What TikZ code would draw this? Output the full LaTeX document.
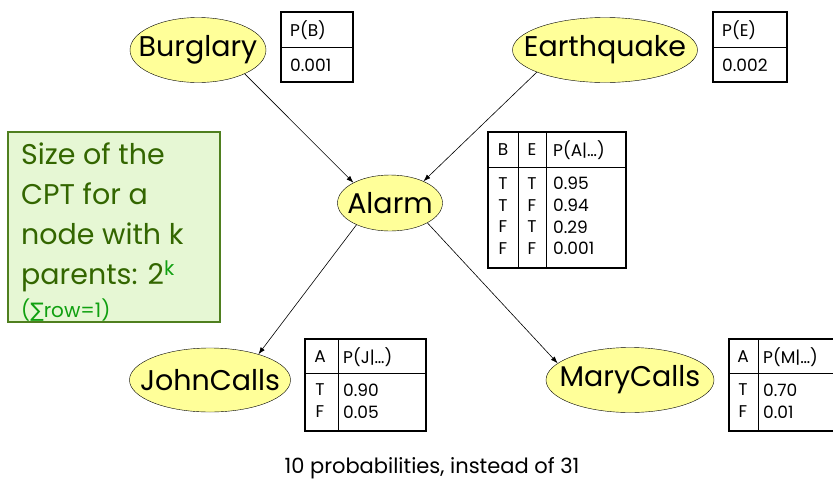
\documentclass[tikz,border=0pt]{standalone}
\usepackage{fontspec}
\setmainfont{Poppins}
\newfontfamily\symfont{DejaVu Sans}
\usetikzlibrary{shapes.geometric,arrows.meta}

\definecolor{nodeyellow}{HTML}{FFFF99}
\definecolor{notefill}{HTML}{E6F7D4}
\definecolor{noteframe}{HTML}{4F7F1F}
\definecolor{notetext}{HTML}{336600}
\definecolor{notelight}{HTML}{10A010}

\tikzset{
  var/.style={ellipse, draw, fill=nodeyellow, inner sep=0pt},
  varname/.style={font=\fontsize{28.5}{32}\selectfont},
  cpt/.style={line width=1.6pt},
  rule/.style={line width=0.8pt},
  cell/.style={inner sep=0pt, font=\fontsize{17}{19}\selectfont},
  link/.style={-{Latex[length=7pt,width=5pt]}, line width=0.6pt},
}

\begin{document}
\begin{tikzpicture}[x=1pt, y=-1pt]
    \useasboundingbox (0,0) rectangle (833,483);
    \clip (0,0) rectangle (833,483);

    % Network nodes
    \node[var, minimum width=136, minimum height=65, label={[varname]center:Burglary}] (burglary) at (198,50) {};
    \node[var, minimum width=185, minimum height=65, label={[varname]center:Earthquake}] (quake) at (605,50) {};
    \node[var, minimum width=105, minimum height=56, label={[varname]center:Alarm}] (alarm) at (390,203) {};
    \node[var, minimum width=161, minimum height=64, label={[varname]center:JohnCalls}] (john) at (210,380) {};
    \node[var, minimum width=168, minimum height=65, label={[varname]center:MaryCalls}] (mary) at (630,380) {};

    % Arcs
    \draw[link] (burglary.-27) -- (alarm.151);
    \draw[link] (quake.-162) -- (alarm.33);
    \draw[link] (alarm.213) -- (john.28);
    \draw[link] (alarm.-28) -- (mary.167);

    % P(B)
    \draw[cpt] (281,12) rectangle (353,82);
    \draw[rule] (281,47) -- (353,47);
    \node[cell, anchor=west] (pbhead) at (290,30) {P(B)};
    \node[cell, anchor=west] (pbval) at (290,65) {0.001};

    % P(E)
    \draw[cpt] (713,12) rectangle (787,82);
    \draw[rule] (713,47) -- (787,47);
    \node[cell, anchor=west] (pehead) at (722,30) {P(E)};
    \node[cell, anchor=west] (peval) at (722,65) {0.002};

    % P(A|B,E)
    \draw[cpt] (488,132) rectangle (626,268);
    \draw[rule] (488,167) -- (626,167) (518,132) -- (518,268) (546,132) -- (546,268);
    \node[cell] (pab) at (503,150) {B};
    \node[cell] (pae) at (532,150) {E};
    \node[cell, anchor=west] (pahead) at (553,150) {P(A|\ldots)};
    \foreach \b/\e/\p [count=\i] in {T/T/0.95, T/F/0.94, F/T/0.29, F/F/0.001} {
        \node[cell] (pab\i) at (503,161.7+21.7*\i) {\b};
        \node[cell] (pae\i) at (532,161.7+21.7*\i) {\e};
        \node[cell, anchor=west] (paval\i) at (553,161.7+21.7*\i) {\p};
    }

    % P(J|A)
    \draw[cpt] (305,339) rectangle (426,431);
    \draw[rule] (305,373) -- (426,373) (338,339) -- (338,431);
    \node[cell] (pja) at (320,357) {A};
    \node[cell, anchor=west] (pjhead) at (343,357) {P(J|\ldots)};
    \node[cell] (pja1) at (320,390) {T};
    \node[cell, anchor=west] (pjval1) at (343,390) {0.90};
    \node[cell] (pja2) at (320,412) {F};
    \node[cell, anchor=west] (pjval2) at (343,412) {0.05};

    % P(M|A)
    \draw[cpt] (729,339) rectangle (850,431);
    \draw[rule] (729,373) -- (850,373) (758,339) -- (758,431);
    \node[cell] (pma) at (743,357) {A};
    \node[cell, anchor=west] (pmhead) at (763,357) {P(M|\ldots)};
    \node[cell] (pma1) at (743,390) {T};
    \node[cell, anchor=west] (pmval1) at (763,390) {0.70};
    \node[cell] (pma2) at (743,412) {F};
    \node[cell, anchor=west] (pmval2) at (763,412) {0.01};

    % Side note
    \draw[fill=notefill, draw=noteframe, line width=1.5pt] (8,132) rectangle (220,322);
    \node[anchor=north west, inner sep=0pt, align=left, text=notetext,
          font=\fontsize{28.5}{40}\selectfont] (note) at (21,143) {
        Size of the\\
        CPT for a\\
        node with k\\
        parents: 2\textsuperscript{\color{notelight}k}\\[-7pt]
        {\fontsize{20}{22}\selectfont\color{notelight}({\symfont∑}row=1)}
    };

    % Count
    \node[font=\fontsize{21}{24}\selectfont] (count) at (432,468) {10 probabilities, instead of 31};
\end{tikzpicture}
\end{document}
